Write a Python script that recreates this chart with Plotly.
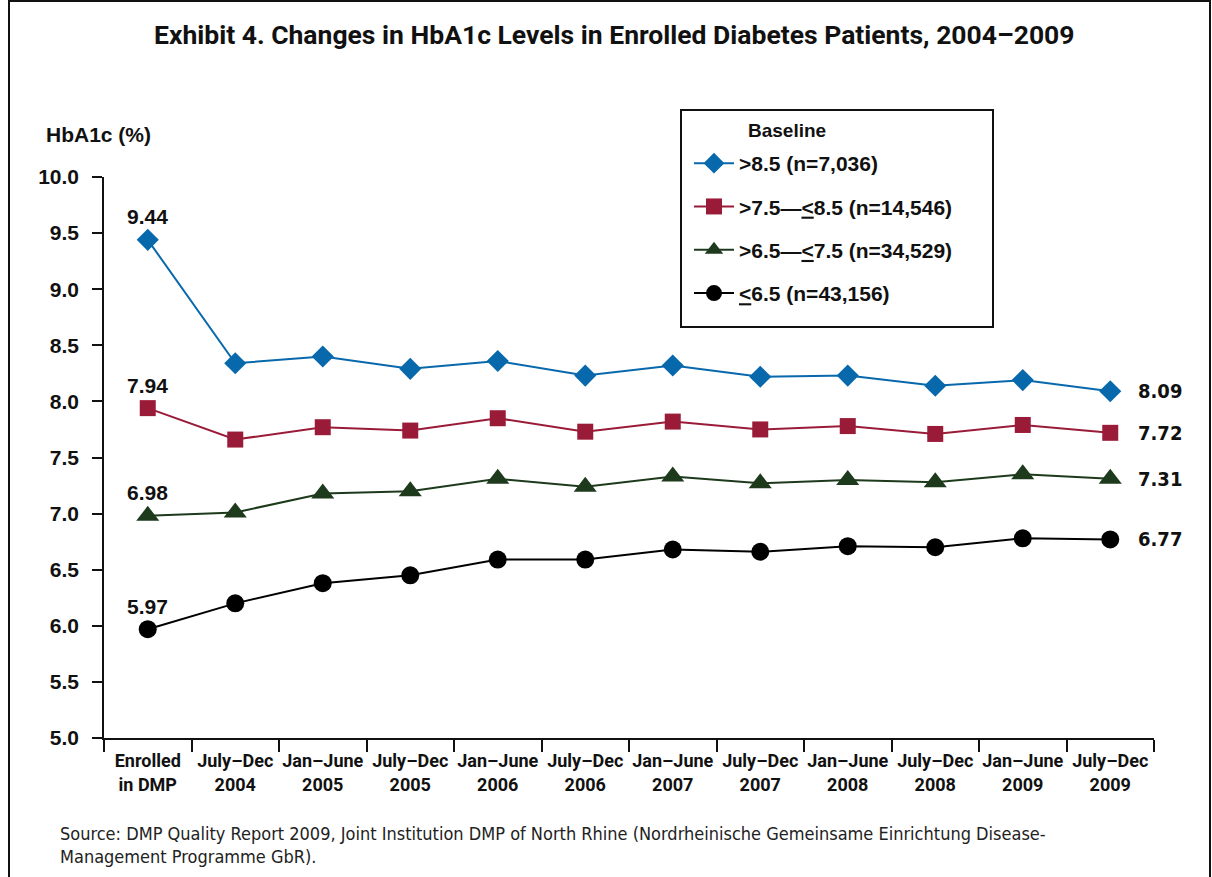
import plotly.graph_objects as go

categories = ["Enrolled<br>in DMP", "July–Dec<br>2004", "Jan–June<br>2005", "July–Dec<br>2005",
              "Jan–June<br>2006", "July–Dec<br>2006", "Jan–June<br>2007", "July–Dec<br>2007",
              "Jan–June<br>2008", "July–Dec<br>2008", "Jan–June<br>2009", "July–Dec<br>2009"]

s_high = [9.44, 8.34, 8.40, 8.29, 8.36, 8.23, 8.32, 8.22, 8.23, 8.14, 8.19, 8.09]
s_mid_high = [7.94, 7.66, 7.77, 7.74, 7.85, 7.73, 7.82, 7.75, 7.78, 7.71, 7.79, 7.72]
s_mid_low = [6.98, 7.01, 7.18, 7.20, 7.31, 7.24, 7.33, 7.27, 7.30, 7.28, 7.35, 7.31]
s_low = [5.97, 6.20, 6.38, 6.45, 6.59, 6.59, 6.68, 6.66, 6.71, 6.70, 6.78, 6.77]

names = ["&gt;8.5 (n=7,036)", "&gt;7.5—<u>&lt;</u>8.5 (n=14,546)",
         "&gt;6.5—<u>&lt;</u>7.5 (n=34,529)", "<u>&lt;</u>6.5 (n=43,156)"]
series = [s_high, s_mid_high, s_mid_low, s_low]
colors = ["#0868AC", "#9A1B38", "#1E3A1C", "#000000"]
symbols = ["diamond", "square", "triangle-up", "circle"]
sizes = [17, 16, 20, 18]

y_ticks = [5.0, 5.5, 6.0, 6.5, 7.0, 7.5, 8.0, 8.5, 9.0, 9.5, 10.0]

L, R, T, B = 104, 1154, 177, 738
W, H = 1212, 877


def px(x):
    return (x - L) / (R - L)


def py(y):
    return (B - y) / (B - T)


COND = "DejaVu Sans Condensed, DejaVu Sans, sans-serif"
ROBO = "Roboto, Liberation Sans, sans-serif"
SANS = "Liberation Sans, Arial, Helvetica, sans-serif"

fig = go.Figure()
for i, (vals, name) in enumerate(zip(series, names)):
    fig.add_trace(go.Scatter(
        x=categories, y=vals, mode="lines+markers", name=name,
        legendgroup=f"g{i}",
        line=dict(color=colors[i], width=2),
        marker=dict(symbol=symbols[i], size=sizes[i], color=colors[i],
                    line=dict(width=0)),
    ))

annotations = []
for i, vals in enumerate(series):
    annotations.append(dict(
        x=categories[0], y=vals[0], xref="x", yref="y", text=f"{vals[0]:.2f}",
        showarrow=False, yshift=23, xanchor="center", yanchor="middle",
        font=dict(family=SANS, size=21, color="#111111", weight="bold")))
    annotations.append(dict(
        x=categories[-1], y=vals[-1], xref="x", yref="y", text=f"{vals[-1]:.2f}",
        showarrow=False, xshift=26, xanchor="left", yanchor="middle",
        font=dict(family=COND, size=20, color="#111111", weight="bold")))

annotations += [
    dict(x=px(614), y=py(35), xref="paper", yref="paper", showarrow=False,
         text="Exhibit 4. Changes in HbA1c Levels in Enrolled Diabetes Patients, 2004–2009",
         xanchor="center", yanchor="middle",
         font=dict(family=ROBO, size=26.5, color="#111111", weight="bold")),
    dict(x=px(44), y=py(135), xref="paper", yref="paper", showarrow=False,
         text="HbA1c (%)", xanchor="left", yanchor="middle",
         font=dict(family=SANS, size=21, color="#111111", weight="bold")),
    dict(x=px(746), y=py(130), xref="paper", yref="paper", showarrow=False,
         text="Baseline", xanchor="left", yanchor="middle",
         font=dict(family=SANS, size=19, color="#111111", weight="bold")),
    dict(x=px(58), y=py(845), xref="paper", yref="paper", showarrow=False,
         text="Source: DMP Quality Report 2009, Joint Institution DMP of North Rhine (Nordrheinische Gemeinsame Einrichtung Disease-<br>Management Programme GbR).",
         xanchor="left", yanchor="middle", align="left",
         font=dict(family=COND, size=18, color="#222222")),
]

shapes = [
    dict(type="rect", xref="paper", yref="paper", x0=px(9), x1=px(1210), y0=py(1), y1=py(900),
         line=dict(color="#111111", width=2), fillcolor="rgba(0,0,0,0)", layer="below"),
    dict(type="rect", xref="paper", yref="paper", x0=px(681), x1=px(993), y0=py(110), y1=py(327),
         line=dict(color="#111111", width=2), fillcolor="rgba(0,0,0,0)", layer="below"),
]

fig.update_layout(
    width=W, height=H,
    margin=dict(l=L, r=W - R, t=T, b=H - B, pad=0),
    paper_bgcolor="white", plot_bgcolor="white",
    showlegend=True,
    legend=dict(x=px(689), y=py(143), xanchor="left", yanchor="top", itemwidth=40,
                bgcolor="rgba(0,0,0,0)", borderwidth=0, tracegroupgap=13,
                font=dict(family=SANS, size=21, color="#111111", weight="bold")),
    annotations=annotations, shapes=shapes,
    xaxis=dict(type="category", range=[-0.5, len(categories) - 0.5],
               showline=True, linecolor="#111111", linewidth=1.5,
               ticks="outside", tickson="boundaries", ticklen=12, tickcolor="#111111", tickwidth=1.5,
               showgrid=False, zeroline=False, tickangle=0, ticklabelstandoff=6,
               tickfont=dict(family=ROBO, size=18, color="#111111", weight="bold")),
    yaxis=dict(range=[5, 10], tickvals=y_ticks, tickformat=".1f",
               showline=True, linecolor="#111111", linewidth=1.5,
               ticks="outside", ticklen=10, tickcolor="#111111", tickwidth=1.5,
               showgrid=False, zeroline=False, ticklabelstandoff=9,
               tickfont=dict(family=SANS, size=21, color="#111111", weight="bold")),
)

fig.write_html("out.html", config={"displayModeBar": False},
               post_script="document.body.style.margin='0px';")
